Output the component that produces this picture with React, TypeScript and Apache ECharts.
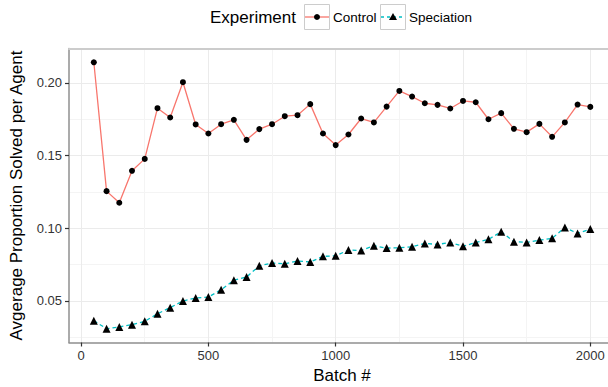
import React, { useEffect, useRef } from "react";
import * as echarts from "echarts";

const batches = [50,100,150,200,250,300,350,400,450,500,550,600,650,700,750,800,850,900,950,1000,1050,1100,1150,1200,1250,1300,1350,1400,1450,1500,1550,1600,1650,1700,1750,1800,1850,1900,1950,2000];
const control = [0.2142,0.1255,0.1175,0.1395,0.1477,0.1826,0.1762,0.2005,0.1714,0.1652,0.1716,0.1746,0.1608,0.1682,0.1716,0.1771,0.1778,0.1854,0.1652,0.1572,0.1645,0.1755,0.1728,0.1837,0.1945,0.1906,0.1860,0.1849,0.1824,0.1876,0.1867,0.1750,0.1792,0.1684,0.1661,0.1718,0.1629,0.1728,0.1851,0.1835];
const speciation = [0.0363,0.0308,0.0320,0.0336,0.0359,0.0411,0.0453,0.0499,0.0519,0.0526,0.0576,0.0641,0.0664,0.0741,0.0760,0.0755,0.0774,0.0767,0.0806,0.0810,0.0849,0.0847,0.0879,0.0863,0.0865,0.0872,0.0895,0.0888,0.0902,0.0875,0.0902,0.0923,0.0975,0.0907,0.0902,0.0918,0.0930,0.1005,0.0964,0.0994];
const xMajorTicks = [0, 500, 1000, 1500, 2000];
const xMinorTicks = [250, 750, 1250, 1750];
const yMajorTicks = [0.05, 0.1, 0.15, 0.2];
const yMinorTicks = [0.025, 0.075, 0.125, 0.175];
const seriesNames = ["Control", "Speciation"];

const FONT = "Liberation Sans, Arial, sans-serif";

export default function App() {
  const ref = useRef<HTMLDivElement>(null);
  useEffect(() => {
    if (!ref.current) return;
    const chart = echarts.init(ref.current, undefined, { renderer: "svg" });
    const xMin = -47.5, xMax = 2069.5, yMin = 0.0213, yMax = 0.2237;
    const minorAxisX = {
      type: "value", min: xMin, max: xMax, position: "top",
      axisLine: { show: true, onZero: false, lineStyle: { color: "#cccccc", width: 2 } },
      axisTick: { show: false, customValues: xMinorTicks },
      axisLabel: { show: false, customValues: xMinorTicks },
      splitLine: { show: true, lineStyle: { color: "#f4f4f4", width: 1 } },
    };
    const minorAxisY = {
      type: "value", min: yMin, max: yMax, position: "right",
      axisLine: { show: false }, axisTick: { show: false, customValues: yMinorTicks },
      axisLabel: { show: false, customValues: yMinorTicks },
      splitLine: { show: true, lineStyle: { color: "#f4f4f4", width: 1 } },
    };
    chart.setOption({
      animation: false,
      grid: { left: 69, right: 0, top: 48.5, bottom: 44.5, show: false },
      xAxis: [
        {
          type: "value", min: xMin, max: xMax, position: "bottom",
          axisLine: { show: true, onZero: false, lineStyle: { color: "#8f8f8f", width: 1.5 } },
          axisTick: { show: true, length: 4, customValues: xMajorTicks, lineStyle: { color: "#333", width: 1.2 } },
          axisLabel: { customValues: xMajorTicks, color: "#333", fontSize: 13, fontFamily: FONT, margin: 6,
            formatter: (v: number) => String(v) },
          splitLine: { show: true, lineStyle: { color: "#ebebeb", width: 1 } },
        },
        minorAxisX,
      ],
      yAxis: [
        {
          type: "value", min: yMin, max: yMax, position: "left",
          axisLine: { show: true, onZero: false, lineStyle: { color: "#8f8f8f", width: 1.5 } },
          axisTick: { show: true, length: 4, customValues: yMajorTicks, lineStyle: { color: "#333", width: 1.2 } },
          axisLabel: {
            customValues: yMajorTicks, color: "#333", fontSize: 13, fontFamily: FONT, margin: 7,
            formatter: (v: number) => v.toFixed(2),
          },
          splitLine: { show: true, lineStyle: { color: "#ebebeb", width: 1 } },
        },
        minorAxisY,
      ],
      series: [
        {
          name: seriesNames[0], type: "line", xAxisIndex: 0, yAxisIndex: 0,
          data: batches.map((b, i) => [b, control[i]]),
          symbol: "circle", symbolSize: 6,
          itemStyle: { color: "#000" },
          lineStyle: { color: "#F8766D", width: 1.3 },
          z: 3,
        },
        {
          name: seriesNames[1], type: "line", xAxisIndex: 0, yAxisIndex: 0,
          data: batches.map((b, i) => [b, speciation[i]]),
          symbol: "triangle", symbolSize: 8,
          itemStyle: { color: "#000" },
          lineStyle: { color: "#00BFC4", width: 1.3, type: [4, 3] },
          z: 3,
        },
      ],
      graphic: [
        { type: "text", x: 16, y: 195.5, rotation: Math.PI / 2,
          style: { text: "Avgerage Proportion Solved per Agent", font: `17px ${FONT}`, fill: "#000", align: "center", verticalAlign: "middle" } },
        { type: "text", x: 342, y: 375,
          style: { text: "Batch #", font: `17px ${FONT}`, fill: "#000", align: "center", verticalAlign: "middle" } },
        { type: "text", x: 210, y: 17.5,
          style: { text: "Experiment", font: `17px ${FONT}`, fill: "#000", align: "left", verticalAlign: "middle" } },
        { type: "rect", shape: { x: 304.5, y: 4.5, width: 25, height: 25 }, style: { fill: "#fff", stroke: "#cccccc", lineWidth: 1 } },
        { type: "line", shape: { x1: 305, y1: 17, x2: 329, y2: 17 }, style: { stroke: "#F8766D", lineWidth: 1.3 } },
        { type: "circle", shape: { cx: 317, cy: 17, r: 3 }, style: { fill: "#000" } },
        { type: "text", x: 333, y: 17.5,
          style: { text: seriesNames[0], font: `13.5px ${FONT}`, fill: "#000", align: "left", verticalAlign: "middle" } },
        { type: "rect", shape: { x: 380.5, y: 4.5, width: 25, height: 25 }, style: { fill: "#fff", stroke: "#cccccc", lineWidth: 1 } },
        { type: "line", shape: { x1: 381, y1: 17, x2: 405, y2: 17 }, style: { stroke: "#00BFC4", lineWidth: 1.3, lineDash: [3, 3] } },
        { type: "polygon", shape: { points: [[393, 13], [389, 20], [397, 20]] }, style: { fill: "#000" } },
        { type: "text", x: 409, y: 17.5,
          style: { text: seriesNames[1], font: `13.5px ${FONT}`, fill: "#000", align: "left", verticalAlign: "middle" } },
      ],
    });
    return () => chart.dispose();
  }, []);
  return <div ref={ref} style={{ width: 608, height: 387, position: "absolute", left: 0, top: 0 }} />;
}
